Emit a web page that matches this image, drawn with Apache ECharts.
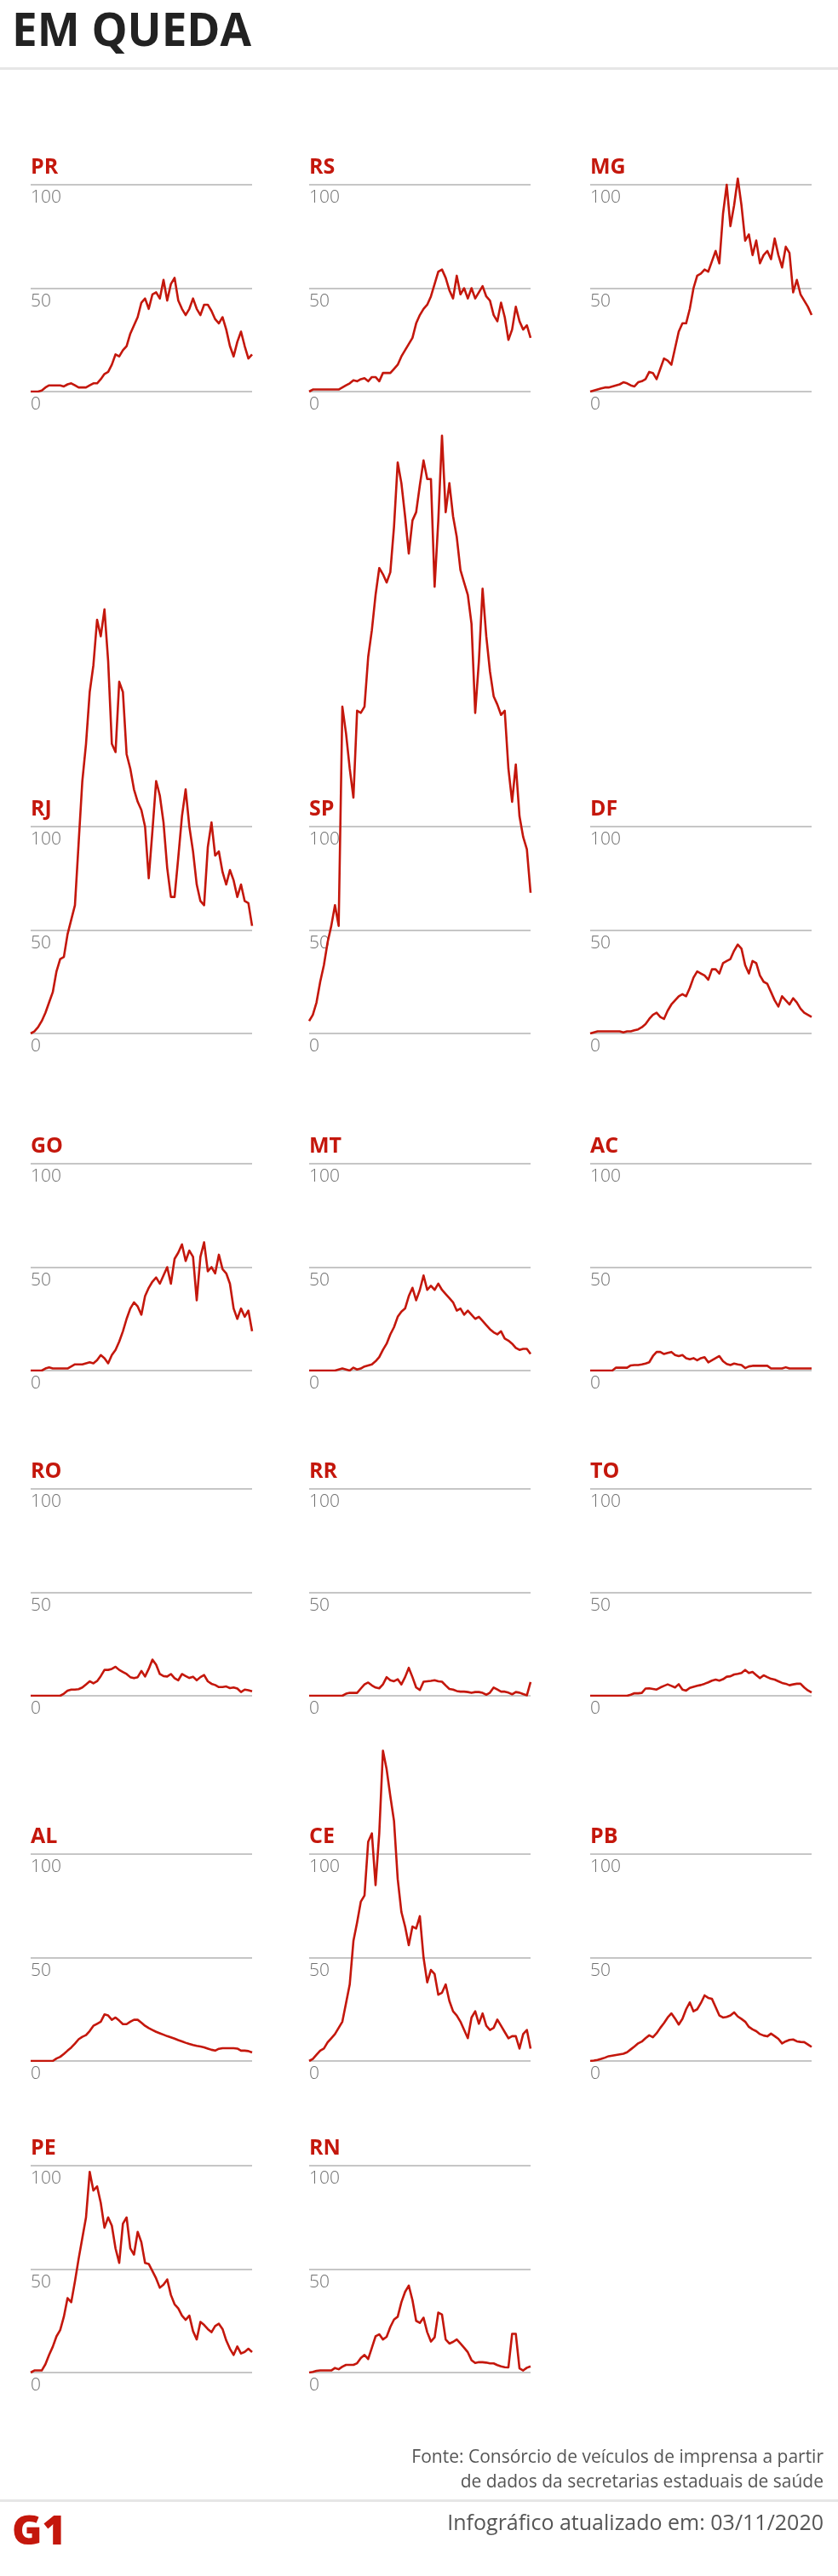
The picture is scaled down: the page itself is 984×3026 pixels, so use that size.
<!DOCTYPE html>
<html><head><meta charset="utf-8">
<script src="https://cdn.jsdelivr.net/npm/echarts@6/dist/echarts.min.js"></script>
<style>html,body{margin:0;padding:0;background:#fff}#c{width:984px;height:3026px}</style>
</head><body><div id="c"></div>
<script>
// ---- data ----
const days = Array.from({length: 61}, (_, i) => 'd' + i);
const yTicks = [0, 50, 100];
const PR = [0,0,0,0.5,2,3,3,3,3,2.5,3.5,4,3,2,2,2,3,4,4,6,8.5,9.5,13,18,17,20,22,28,32,36,43,45,40,47,48,45,54,44,52,55,44,40,37,40,45,40,37,42,42,39,35,33,36,30,22,17,24,29,22,16,18];
const RS = [0,1,1,1,1,1,1,1,1,2,3,4,5.5,5,6,6.5,5,7,7,5,9,9,9,11,13,17,20,23,26,33,37,40,42,46,52,58,59,55,49,45,56,47,50,45,50,45,48,51,46,44,37,34,43,36,25,30,41,34,30,32,26];
const MG = [0,0.5,1,1.5,2,2,2.5,3,3.5,4.5,4,3,2.5,4.5,5,6,9.5,9,6,11,16,15,13,21,29,33,33,40,50,56,57,59,58,63,68,62,86,100,80,90,103,90,73,76,66,73,62,66,68,64,74,66,60,70,67,48,54,47,44,41,37];
const RJ = [0,1,3,6,10,15,20,30,36,37,48,55,62,92,122,140,165,178,200,192,205,180,140,136,170,165,135,128,118,112,108,100,75,98,122,115,102,80,66,66,85,105,118,100,88,72,64,62,90,102,86,88,78,72,79,74,66,72,64,63,52];
const SP = [6,9,15,25,33,44,52,62,52,158,145,128,114,156,155,158,182,195,212,225,222,218,223,245,276,266,250,232,248,252,265,277,268,268,216,248,289,252,266,250,240,224,218,212,198,155,180,215,192,175,163,159,154,156,128,112,130,105,95,89,68];
const DF = [0,0.5,1,1,1,1,1,1,1,0.5,1,1,1.5,2,3,4.5,7,9,10,8,7,11,14,16,18,19,18,22,27,30,29,28,26,31,31,29,34,35,36,40,43,41,33,29,35,34,28,25,24,20,16,13,18,16,14,17,15,12,10,9,8];
const GO = [0,0,0,0,1,1.5,1,1,1,1,1,2,3,3,3,3.5,4,3.5,5,7.5,6,3.5,7.5,10,14,19,25,30,33,31,27,36,40,43,45,42,46,50,42,54,57,61,53,58,55,34,55,62,48,50,47,56,49,47,42,30,25,30,26,29,19];
const MT = [0,0,0,0,0,0,0,0,0.5,1,0.5,0,1.4,0.5,1,2,2.5,3,4.5,6.5,10,13,17.5,21,26,28.5,30,36,40,34,39,46,39,41,39,42,39,37,35,33,29,30,27,29,27,25,26,24,22,20,18.5,17.5,19,15.5,14.5,13,11,10,10.5,10.5,8];
const AC = [0,0,0,0,0,0,0,1.4,1.4,1.4,1.4,2.5,2.7,2.7,3,3.4,4,7,9,9,8,8.5,9,7.5,7,7.5,6,5.5,6,5,6,6.5,4,5,6,7,4.5,3.2,2.7,3.4,3,2.7,1.2,2,2.3,2.3,2.3,2.3,2.3,1,1,1,1,1.6,1,1,1,1,1,1,1];
const RO = [0,0,0,0,0,0,0,0,0,1,2.5,3,3,3.2,4,5.5,7,6,7,9.5,12.5,12.5,13,14,12.5,11.5,10.5,9,8.5,9,12,9.3,13,17.5,15,10.5,9.5,9.3,10.5,8.5,7.5,10.5,9.5,8.6,9.2,7.5,9,10,7,5.8,5.2,4.2,4.2,4.5,3.7,4,3.5,1.8,3,2.7,2.2];
const RR = [0,0,0,0,0,0,0,0,0,0,1,1.4,1.4,1.4,3.5,5.5,6.4,5,4,3.6,5.5,9,7.5,7,8,5.5,9,13.5,9,4,2.8,6.8,7,7.2,7.5,7,6.8,5,3.3,3,2.3,2,2,1.8,1.4,1.8,1.8,1.4,0.5,1.5,4,3,2,2,1.5,0.7,1.8,1.5,0.8,0.2,6.6];
const TO = [0,0,0,0,0,0,0,0,0,0,0,0.5,1.2,1.2,1.4,3.5,3.6,3.3,3,4,4.8,5.5,4.8,4,5.6,3,2.5,3.8,4.3,4.8,5.2,5.8,6.5,7.3,7.8,7.3,8,9.2,9.4,10.3,10.6,11,12.5,11,11.5,10,8.5,9.9,9,8.2,7.8,7,6.2,5.8,5.1,5.5,5.8,5.8,4,2.6,1.6];
const AL = [0,0,0,0,0,0,0,1.2,2,3.4,5,6.5,8.4,10.5,11.7,12.5,14.5,17,18,19,22.5,22,19.9,21,19.5,17.8,17.8,19,19.9,19.9,18.5,17,15.9,15,14.1,13.4,12.7,12,11.4,10.8,10.1,9.5,8.8,8.2,7.7,7.3,7,6.6,6,5.4,5,5.9,6.2,6.2,6.2,6.2,6,5,5,4.8,4.1];
const CE = [0,1,3,5,6,9,11,13,16,19,28,37,58,67,77,80,106,110,85,110,150,141,128,116,88,72,65,56,65,64,70,50,38,44,42,32,33,37,29,24,22,19,15,11,21,24,18,23,17,15,16,20,17,14,11,12,12,6,13,15,6];
const PB = [0,0.2,0.5,1,1.6,2.3,2.6,2.9,3.2,3.5,4.2,5.6,7,8.5,9.4,11,12.4,11.5,13.4,16,18.3,21,23,20.5,17.6,20.4,25,28.3,24,25,28,31.7,30.5,30,26,22,21,21.3,22,23.5,21.5,20.3,19,16.5,15.3,14.4,13,12.3,11.9,13.2,12,10.7,8.5,9.5,10.2,10.4,9.5,9.2,9.1,8,6.8];
const PE = [0,1,1,1,4,8.5,12.5,17.5,20.5,27,36,34,44,55,65,75,97,88,90,82,70,75,71,60,53,72,75,60,57,68,63,53,52.5,49,45.5,41,42.5,45,37.5,33,31,27.5,25.5,27.5,20,16,24.5,23,21,19.5,22.5,23.6,21,15.5,11.5,8.5,12.6,9.2,10,11.5,9.9];
const RN = [0,0.3,0.8,1,1,1,1,2.2,1.6,2.8,3.7,3.7,3.7,4.5,7,8.5,6.5,12,17.5,18.5,16,17.3,22,25.6,27,34,39,42,35,25,24,26.5,19.5,15,17,29,28,16,14,14.8,16,14,12,9.8,6,4.6,5,5,4.8,4.4,4.4,3.6,3,2.6,2.5,18.7,18.7,2,1,2.3,3];

const panelNames = ['PR','RS','MG','RJ','SP','DF','GO','MT','AC','RO','RR','TO','AL','CE','PB','PE','RN'];
const panelData = {PR, RS, MG, RJ, SP, DF, GO, MT, AC, RO, RR, TO, AL, CE, PB, PE, RN};

// ---- layout ----
const colLeft = [36, 363, 693];
const rowTop = [217, 971, 1367, 1749, 2178, 2544];
const rowPlotMax = [150, 300, 300, 300, 300, 300]; // taller plotting area, same px-per-unit
const panelW = 260, panelH = 243;   // 0..100 span
const RED = '#c4170c';

const grids = [], xAxes = [], yAxes = [], series = [], titles = [];
titles.push({text: 'EM QUEDA', left: 14, top: 12, padding: 0,
  textStyle: {fontSize: 53, fontWeight: 'bold', color: '#222', fontFamily: 'Open Sans'}});
panelNames.forEach((name, i) => {
  const r = Math.floor(i / 3), c = i % 3;
  const left = colLeft[c], top = rowTop[r];
  const ga = grids.length;
  // visible axis grid (0..100)
  grids.push({left: left, top: top, width: panelW, height: panelH});
  xAxes.push({type: 'category', gridIndex: ga, data: days, boundaryGap: false, show: false});
  yAxes.push({type: 'value', gridIndex: ga, min: yTicks[0], max: yTicks[yTicks.length - 1], interval: 50,
    axisLine: {show: false}, axisTick: {show: false},
    splitLine: {show: true, lineStyle: {color: '#c6c6c6', width: 2}},
    axisLabel: {inside: true, margin: 0, color: '#707070', fontSize: 21, fontWeight: 300,
      fontFamily: 'Open Sans', verticalAlign: 'top', align: 'left', padding: [5, 0, 0, 0],
      showMinLabel: true, showMaxLabel: true}});
  // plotting grid: same bottom and same px-per-unit, taller to hold values above 100
  const gb = grids.length;
  const pmax = rowPlotMax[r];
  const h = panelH * pmax / 100;
  grids.push({left: left, top: top + panelH - h, width: panelW, height: h});
  xAxes.push({type: 'category', gridIndex: gb, data: days, boundaryGap: false, show: false});
  yAxes.push({type: 'value', gridIndex: gb, min: 0, max: pmax, show: false, splitLine: {show: false}});
  series.push({type: 'line', xAxisIndex: gb, yAxisIndex: gb, data: panelData[name],
    showSymbol: false, symbol: 'none', silent: true, z: 5,
    lineStyle: {color: RED, width: 2.6, join: 'round'}});
  titles.push({text: name, left: left, top: top - 33, padding: 0,
    textStyle: {fontSize: 25, fontWeight: 'bold', color: RED, fontFamily: 'Open Sans'}});
});

const chart = echarts.init(document.getElementById('c'), null, {renderer: 'canvas'});
chart.setOption({
  animation: false,
  backgroundColor: '#fff',
  title: titles,
  grid: grids, xAxis: xAxes, yAxis: yAxes, series: series,
  graphic: [
    {type: 'rect', shape: {x: 0, y: 79, width: 984, height: 3}, style: {fill: '#e6e6e6'}},
    {type: 'rect', shape: {x: 0, y: 2936, width: 984, height: 3}, style: {fill: '#e6e6e6'}},
    {type: 'text', x: 967, y: 2887, style: {text: 'Fonte: Consórcio de veículos de imprensa a partir',
      fontSize: 21, fontFamily: 'Open Sans', fill: '#555', textAlign: 'right', textVerticalAlign: 'middle'}},
    {type: 'text', x: 967, y: 2916, style: {text: 'de dados da secretarias estaduais de saúde',
      fontSize: 21, fontFamily: 'Open Sans', fill: '#555', textAlign: 'right', textVerticalAlign: 'middle'}},
    {type: 'text', x: 967, y: 2965, style: {text: 'Infográfico atualizado em: 03/11/2020',
      fontSize: 25, fontFamily: 'Open Sans', fill: '#555', textAlign: 'right', textVerticalAlign: 'middle'}},
    {type: 'text', x: 14, y: 2975, style: {text: 'G1', fontSize: 48, fontWeight: 900,
      fontFamily: 'Open Sans', fill: RED, textAlign: 'left', textVerticalAlign: 'middle'}}
  ]
});
</script></body></html>
